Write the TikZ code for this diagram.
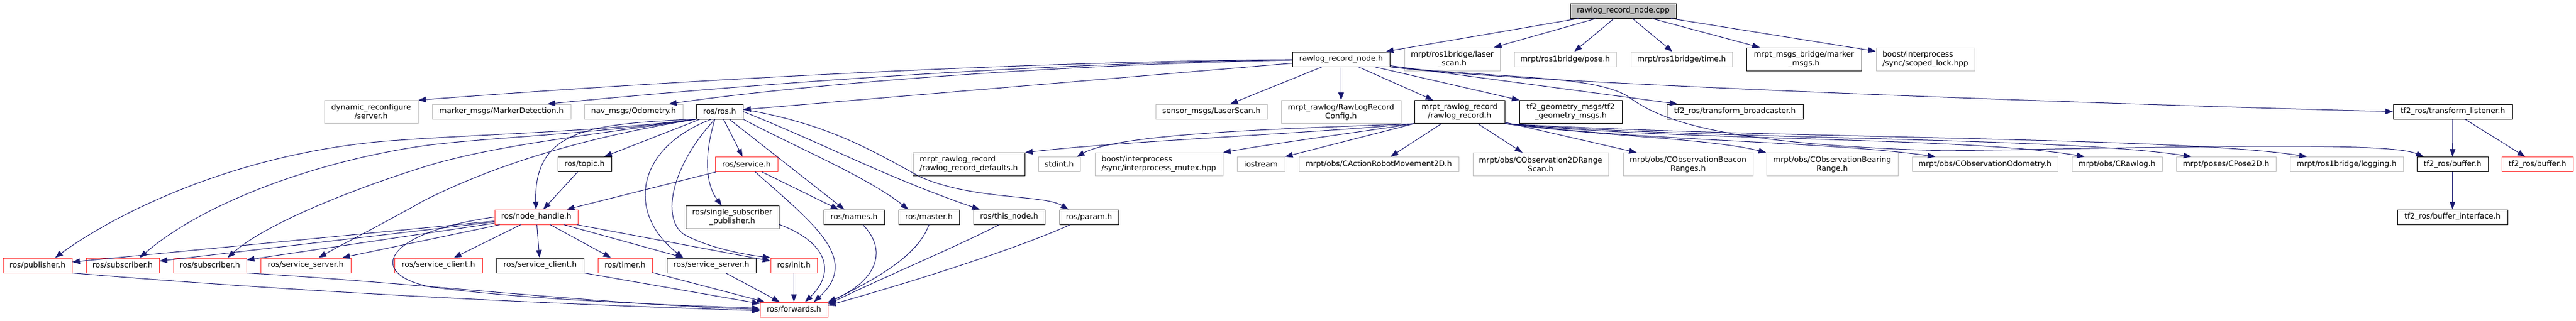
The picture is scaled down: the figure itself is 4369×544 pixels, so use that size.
\documentclass[tikz,border=0pt]{standalone}
\usepackage{fontspec}
\setmainfont{DejaVu Sans}
\usetikzlibrary{arrows.meta}
\definecolor{edgeblue}{HTML}{191970}
\definecolor{extgray}{HTML}{BFBFBF}
\definecolor{truncred}{HTML}{FF3333}
\tikzset{
  hdr/.style={rectangle, line width=1pt, inner sep=0pt, minimum height=25pt,
    align=center, font=\fontsize{12.9}{15}\selectfont},
  doc/.style={hdr, draw=black},
  ext/.style={hdr, draw=extgray},
  trunc/.style={hdr, draw=truncred},
  root/.style={doc, fill=extgray},
  two/.style={minimum height=39pt},
  inc/.style={draw=edgeblue, line width=1pt, -{Triangle[length=13pt,width=9.5pt]}},
}
\begin{document}
\begin{tikzpicture}[x=1pt,y=-1pt]
      \path[use as bounding box, fill=white] (0,0) rectangle (4369,544);
      \draw
        (2753,18.5) node[root, minimum width=180pt] (0){rawlog\_record\_node.cpp}
        (2274.5,100.5) node[doc, minimum width=165pt] (1){rawlog\_record\_node.h}
        (2463,100.5) node[ext, two, minimum width=162pt] (2){mrpt/ros1bridge/laser\\\_scan.h}
        (2654.5,100.5) node[ext, minimum width=173pt] (3){mrpt/ros1bridge/pose.h}
        (2852,100.5) node[ext, minimum width=172pt] (4){mrpt/ros1bridge/time.h}
        (3059.5,100.5) node[doc, two, minimum width=195pt] (5){mrpt\_msgs\_bridge/marker\\\_msgs.h}
        (3265.5,100.5) node[ext, two, align=left, minimum width=167pt] (6){boost/interprocess\\/sync/scoped\_lock.hpp}
        (629.5,190) node[ext, two, minimum width=159pt] (7){dynamic\_reconfigure\\/server.h}
        (850.5,189.5) node[ext, minimum width=235pt] (8){marker\_msgs/MarkerDetection.h}
        (1074.5,189.5) node[ext, minimum width=167pt] (9){nav\_msgs/Odometry.h}
        (1220.5,189.5) node[doc, minimum width=79pt] (10){ros/ros.h}
        (2054.5,189.5) node[ext, minimum width=189pt] (11){sensor\_msgs/LaserScan.h}
        (2274.5,190) node[ext, two, minimum width=203pt] (12){mrpt\_rawlog/RawLogRecord\\Config.h}
        (2475.5,190) node[doc, two, minimum width=153pt] (13){mrpt\_rawlog\_record\\/rawlog\_record.h}
        (2664,190) node[doc, two, minimum width=174pt] (14){tf2\_geometry\_msgs/tf2\\\_geometry\_msgs.h}
        (2942.5,189.5) node[doc, minimum width=231pt] (15){tf2\_ros/transform\_broadcaster.h}
        (4160,189.5) node[doc, minimum width=202pt] (16){tf2\_ros/transform\_listener.h}
        (991.5,279) node[doc, minimum width=91pt] (17){ros/topic.h}
        (1266,279) node[trunc, minimum width=106pt] (18){ros/service.h}
        (1643,279) node[doc, two, align=left, minimum width=190pt] (19){mrpt\_rawlog\_record\\/rawlog\_record\_defaults.h}
        (1796.5,279) node[ext, minimum width=71pt] (20){stdint.h}
        (1965.5,279) node[ext, two, align=left, minimum width=217pt] (21){boost/interprocess\\/sync/interprocess\_mutex.hpp}
        (2138.5,279) node[ext, minimum width=81pt] (22){iostream}
        (2338.5,279) node[ext, minimum width=271pt] (23){mrpt/obs/CActionRobotMovement2D.h}
        (2613,279) node[ext, two, minimum width=230pt] (24){mrpt/obs/CObservation2DRange\\Scan.h}
        (2863,279) node[ext, two, minimum width=220pt] (25){mrpt/obs/CObservationBeacon\\Ranges.h}
        (3107.5,279) node[ext, two, minimum width=223pt] (26){mrpt/obs/CObservationBearing\\Range.h}
        (3366.5,279) node[ext, minimum width=247pt] (27){mrpt/obs/CObservationOdometry.h}
        (3590.5,279) node[ext, minimum width=153pt] (28){mrpt/obs/CRawlog.h}
        (3775.5,279) node[ext, minimum width=169pt] (29){mrpt/poses/CPose2D.h}
        (3980,279) node[ext, minimum width=192pt] (30){mrpt/ros1bridge/logging.h}
        (4159.5,279) node[doc, minimum width=121pt] (31){tf2\_ros/buffer.h}
        (4303.5,279) node[trunc, minimum width=121pt] (32){tf2\_ros/buffer.h}
        (909.5,368.5) node[trunc, minimum width=141pt] (33){ros/node\_handle.h}
        (1242,369) node[doc, two, minimum width=158pt] (34){ros/single\_subscriber\\\_publisher.h}
        (1448.5,368.5) node[doc, minimum width=103pt] (35){ros/names.h}
        (1575.5,368.5) node[doc, minimum width=103pt] (36){ros/master.h}
        (1711.5,368.5) node[doc, minimum width=121pt] (37){ros/this\_node.h}
        (1847,368.5) node[doc, minimum width=100pt] (38){ros/param.h}
        (4159.5,368.5) node[doc, minimum width=187pt] (39){tf2\_ros/buffer\_interface.h}
        (63.5,450.5) node[trunc, minimum width=117pt] (40){ros/publisher.h}
        (208,450.5) node[trunc, minimum width=124pt] (41){ros/subscriber.h}
        (356,450.5) node[trunc, minimum width=124pt] (42){ros/subscriber.h}
        (518.5,450.5) node[trunc, minimum width=153pt] (43){ros/service\_server.h}
        (743.5,450.5) node[trunc, minimum width=149pt] (44){ros/service\_client.h}
        (916,450.5) node[doc, minimum width=148pt] (45){ros/service\_client.h}
        (1060,450.5) node[trunc, minimum width=92pt] (46){ros/timer.h}
        (1206.5,450.5) node[doc, minimum width=151pt] (47){ros/service\_server.h}
        (1346.5,450.5) node[trunc, minimum width=79pt] (48){ros/init.h}
        (1346.5,525.5) node[trunc, minimum width=115pt] (49){ros/forwards.h};
      \begin{scope}[inc]
        \draw (0) to (1);
        \draw (0) to (2);
        \draw (0) to (3);
        \draw (0) to (4);
        \draw (0) to (5);
        \draw (0) to (6);
        \draw (1) .. controls (1700,105) and (1100,140) .. (7.north east);
        \draw (1) .. controls (1700,108) and (1200,150) .. ([xshift=78pt]8.north);
        \draw (1) .. controls (1700,112) and (1300,152) .. ([xshift=60pt]9.north);
        \draw (1) to (10);
        \draw (1) to (11);
        \draw (1) to (12);
        \draw (1) to (13);
        \draw (1) to (14);
        \draw (1) to (15);
        \draw (1.south east) .. controls (2550,140) and (3500,175) .. (16.west);
        \draw (1.south east) .. controls (2550,133) and (2700,128) .. (2760,163)
          .. controls (2810,200) and (2900,245) .. (3300,256)
          .. controls (3700,250) and (4050,240) .. ([xshift=12pt]31.north west);
        \draw (10.south west) .. controls (1000,225) and (800,228) .. (650,240)
          .. controls (400,262) and (200,360) .. ([xshift=30pt]40.north);
        \draw (10.south west) .. controls (1000,228) and (850,232) .. (730,246)
          .. controls (550,270) and (350,340) .. ([xshift=29pt]41.north);
        \draw (10.south west) .. controls (1000,230) and (850,245) .. (730,280)
          .. controls (600,320) and (450,380) .. ([xshift=30pt]42.north);
        \draw (10.south west) .. controls (1000,232) and (850,275) .. (720,340)
          .. controls (640,385) and (580,415) .. ([xshift=22pt]43.north);
        \draw (10.south west) .. controls (1000,210) and (905,220) .. (33);
        \draw (10) to (17);
        \draw (10) to (18);
        \draw ([xshift=-8pt]10.south) .. controls (1195,260) and (1195,310) .. ([xshift=-18pt]34.north);
        \draw ([xshift=-14pt]10.south) .. controls (1080,250) and (1060,360) .. ([xshift=-48pt]47.north);
        \draw ([xshift=-8pt]10.south) .. controls (1140,280) and (1120,370) .. (1160,398)
          .. controls (1200,420) and (1260,432) .. (48.north west);
        \draw (10) to (35);
        \draw (10.south east) .. controls (1350,250) and (1470,300) .. ([xshift=-35pt]36.north);
        \draw (10.east) .. controls (1400,245) and (1500,300) .. ([xshift=-50pt]37.north);
        \draw ([yshift=4pt]10.east) .. controls (1400,210) and (1470,250) .. (1560,300)
          .. controls (1650,340) and (1770,330) .. ([xshift=-35pt]38.north);
        \draw (17) to (33);
        \draw (18) to (33);
        \draw (18) to (35);
        \draw ([xshift=15pt]18.south) .. controls (1380,380) and (1460,440) .. ([xshift=34pt]49.north);
        \draw ([yshift=-12pt]34.east) .. controls (1400,410) and (1420,460) .. ([xshift=19pt]49.north);
        \draw (33) to (40);
        \draw (33) to (41);
        \draw (33) to (42);
        \draw (33) to (43);
        \draw (33) to (44);
        \draw (33) to (45);
        \draw (33) to (46);
        \draw (33) to (47);
        \draw (33) to (48);
        \draw (33.west) .. controls (650,395) and (620,465) .. (730,487)
          .. controls (900,510) and (1150,518) .. ([yshift=2pt]49.west);
        \draw (40.south east) .. controls (500,495) and (900,515) .. ([yshift=-2pt]49.west);
        \draw (42.south east) .. controls (700,480) and (1000,515) .. (49.west);
        \draw (45) to (49);
        \draw (46) to (49);
        \draw (47) to (49);
        \draw (48) to (49);
        \draw ([xshift=15pt]35.south) .. controls (1510,430) and (1480,480) .. (49.north east);
        \draw (36.south) .. controls (1555,440) and (1470,480) .. ([yshift=-2pt]49.north east);
        \draw ([xshift=-17pt]37.south) .. controls (1620,420) and (1500,470) .. ([yshift=-4pt]49.north east);
        \draw ([xshift=-32pt]38.south) .. controls (1730,420) and (1560,475) .. ([yshift=-6pt]49.north east);
        \draw (13.south west) .. controls (2200,228) and (1900,240) .. (19.north east);
        \draw (13.south west) .. controls (2200,218) and (1900,225) .. ([xshift=-6pt]20.north east);
        \draw (13.south west) .. controls (2300,225) and (2150,245) .. (21.north east);
        \draw (13.south west) to (22.north east);
        \draw (13) to (23);
        \draw (13) to (24);
        \draw (13) to (25);
        \draw (13.south east) .. controls (2700,230) and (2900,235) .. (26.north west);
        \draw (13.south east) .. controls (2800,240) and (3100,240) .. ([xshift=40pt]27.north west);
        \draw (13.south east) .. controls (2850,240) and (3336,232) .. ([xshift=22pt]28.north west);
        \draw (13.south east) .. controls (2900,238) and (3500,232) .. ([xshift=26pt]29.north west);
        \draw (13.south east) .. controls (3000,236) and (3700,232) .. ([xshift=29pt]30.north west);
        \draw (16) to (31);
        \draw (16) to (32);
        \draw (31) to (39);
      \end{scope}
    \end{tikzpicture}
\end{document}
